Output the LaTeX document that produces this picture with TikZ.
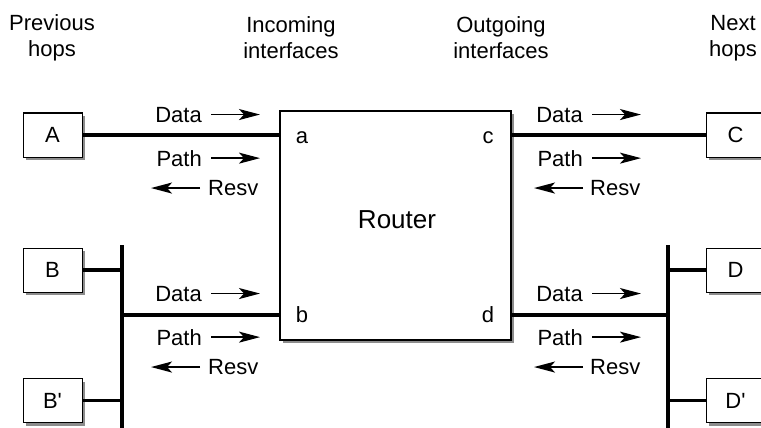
\documentclass[tikz,border=0pt]{standalone}
\usepackage{fontspec}
\setmainfont{Liberation Sans}
\usetikzlibrary{arrows.meta,shadows,calc}
\begin{document}
\begin{tikzpicture}[x=1pt,y=-1pt,
  every node/.style={font=\fontsize{22}{26}\selectfont},
  hopbox/.style={draw, line width=1pt, fill=white, minimum width=59pt, minimum height=44pt, inner sep=0pt,
    drop shadow={shadow xshift=3pt, shadow yshift=-3pt, fill=black!45, opacity=1}},
  routerbox/.style={draw, line width=1.2pt, fill=white, minimum width=231pt, minimum height=229pt, inner sep=0pt,
    drop shadow={shadow xshift=3pt, shadow yshift=-3pt, fill=black!45, opacity=1}},
  wire/.style={line width=3.5pt},
  arr/.style={line width=1.8pt, -{Stealth[length=21pt,width=11pt,inset=5pt]}},
  lbl/.style={inner sep=0pt},
  hdr/.style={align=center, inner sep=0pt}
]
\clip (0,0) rectangle (761,428);
\fill[white] (0,0) rectangle (761,428);

% headers
\node[hdr] (hPrev) at (52,38) {Previous\\hops};
\node[hdr] (hIn) at (291,38) {Incoming\\interfaces};
\node[hdr] (hOut) at (501,38) {Outgoing\\interfaces};
\node[hdr] (hNext) at (733,38) {Next\\hops};

% boxes
\node[hopbox] (A) at (52.5,135) {A};
\node[hopbox] (B) at (52.5,270) {B};
\node[hopbox] (Bp) at (52.5,400.5) {B\textquotesingle};
\node[hopbox] (C) at (735.5,135) {C};
\node[hopbox] (D) at (735.5,270) {D};
\node[hopbox] (Dp) at (735.5,400.5) {D\textquotesingle};
\node[routerbox] (R) at (395.5,225.5) {};
\node[lbl, anchor=base, font=\fontsize{26}{30}\selectfont] (Rl) at (397,228) {Router};

% interface letters
\node[lbl, anchor=base] (ia) at (302,143) {a};
\node[lbl, anchor=base] (ib) at (302,322) {b};
\node[lbl, anchor=base] (ic) at (488,143) {c};
\node[lbl, anchor=base] (id) at (488,322) {d};

% buses
\coordinate (busLtop) at (122,245);
\coordinate (busLbot) at (122,432);
\coordinate (busRtop) at (668,245);
\coordinate (busRbot) at (668,432);
\draw[wire] (busLtop) -- (busLbot);
\draw[wire] (busRtop) -- (busRbot);
\coordinate (bJ) at (122,315);
\coordinate (dJ) at (668,315);

% wires
\draw[wire] (A.east) -- (A.east -| R.west);
\draw[wire] (B.east) -- (B.east -| busLtop);
\draw[wire] (Bp.east) -- (Bp.east -| busLtop);
\draw[wire] (bJ) -- (bJ -| R.west);
\draw[wire] (C.west) -- (C.west -| R.east);
\draw[wire] (D.west) -- (D.west -| busRtop);
\draw[wire] (Dp.west) -- (Dp.west -| busRtop);
\draw[wire] (dJ) -- (dJ -| R.east);

% message labels, top-left
\node[lbl, anchor=base east] (d1) at (202,122) {Data};
\draw[arr] ([xshift=9pt]d1.east) -- ++(49,0);
\node[lbl, anchor=base east] (p1) at (202,166) {Path};
\draw[arr] ([xshift=9pt]p1.east) -- ++(49,0);
\node[lbl, anchor=base west] (r1) at (208,195.5) {Resv};
\draw[arr] ([xshift=-8pt]r1.west) -- ++(-49,0);

% bottom-left
\node[lbl, anchor=base east] (d2) at (202,301) {Data};
\draw[arr] ([xshift=9pt]d2.east) -- ++(49,0);
\node[lbl, anchor=base east] (p2) at (202,345) {Path};
\draw[arr] ([xshift=9pt]p2.east) -- ++(49,0);
\node[lbl, anchor=base west] (r2) at (208,374.5) {Resv};
\draw[arr] ([xshift=-8pt]r2.west) -- ++(-49,0);

% top-right
\node[lbl, anchor=base east] (d3) at (583,122) {Data};
\draw[arr] ([xshift=9pt]d3.east) -- ++(49,0);
\node[lbl, anchor=base east] (p3) at (583,166) {Path};
\draw[arr] ([xshift=9pt]p3.east) -- ++(49,0);
\node[lbl, anchor=base west] (r3) at (590,195.5) {Resv};
\draw[arr] ([xshift=-7pt]r3.west) -- ++(-49,0);

% bottom-right
\node[lbl, anchor=base east] (d4) at (583,301) {Data};
\draw[arr] ([xshift=9pt]d4.east) -- ++(49,0);
\node[lbl, anchor=base east] (p4) at (583,345) {Path};
\draw[arr] ([xshift=9pt]p4.east) -- ++(49,0);
\node[lbl, anchor=base west] (r4) at (590,374.5) {Resv};
\draw[arr] ([xshift=-7pt]r4.west) -- ++(-49,0);
\end{tikzpicture}
\end{document}
